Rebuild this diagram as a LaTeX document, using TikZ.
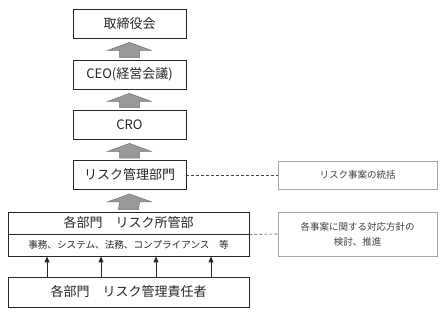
\documentclass[tikz,border=0pt]{standalone}
\usepackage{fontspec}
\setmainfont{Noto Sans CJK JP}
\usepackage{xcolor}
\usetikzlibrary{arrows.meta,calc}
\tikzset{
  orgbox/.style={draw=black!85, line width=0.8bp, fill=white, minimum width=113bp, minimum height=29bp, inner sep=0pt, align=center, text=black!85, font=\fontsize{13bp}{15bp}\selectfont},
  widebox/.style={orgbox, minimum width=241bp, minimum height=22bp},
  notebox/.style={draw=black!35, line width=0.6bp, minimum width=159bp, inner sep=0pt, align=center, text=black!75, font=\fontsize{9.5bp}{15bp}\selectfont},
  blockarrow/.style={fill=black!40, draw=black!55, line width=0.5bp},
  smallarrow/.style={-{Triangle[width=5bp,length=6bp]}, line width=0.9bp, black!85},
  link/.style={dashed, dash pattern=on 3bp off 2bp, line width=0.6bp, black!75}
}
% wide grey arrow pointing up from #1 to #2
\newcommand{\blockup}[2]{%
  \filldraw[blockarrow] ($(#1.north)+(-10,-2)$) -- ($(#2.south)+(-10,12)$) -- ($(#2.south)+(-22,12)$)
    -- ($(#2.south)+(0,4)$) -- ($(#2.south)+(22,12)$) -- ($(#2.south)+(10,12)$) -- ($(#1.north)+(10,-2)$) -- cycle;}

\begin{document}
\begin{tikzpicture}[x=1bp,y=-1bp]
  \useasboundingbox (0,0) rectangle (446,317);

  \node[orgbox] (board) at (129.5,23.5) {取締役会};
  \node[orgbox] (ceo) at (129.5,74.5) {CEO(経営会議)};
  \node[orgbox] (cro) at (129.5,124.5) {CRO};
  \node[orgbox] (riskdept) at (129.5,175) {リスク管理部門};

  \node[widebox] (owner) at (128.5,223) {各部門\hspace{1em}リスク所管部};
  \node[widebox, minimum height=22bp, font=\fontsize{9.6bp}{12bp}\selectfont] (fields) at (128.5,245) {事務、システム、法務、コンプライアンス\hspace{1em}等};
  \node[orgbox, minimum width=241bp, minimum height=30bp] (resp) at (128.5,292) {各部門\hspace{1em}リスク管理責任者};

  \node[notebox, minimum height=28bp] (note1) at (357.5,175) {リスク事案の統括};
  \node[notebox, minimum height=44bp] (note2) at (357.5,234) {各事案に関する対応方針の\\検討、推進};

  \blockup{ceo}{board}
  \blockup{cro}{ceo}
  \blockup{riskdept}{cro}
  \blockup{owner}{riskdept}

  \foreach \x in {47,101,156,211}
    \draw[smallarrow] (resp.north -| \x,0) -- (fields.south -| \x,0);

  \draw[link] (riskdept.east) -- (note1.west);
  \draw[link] (owner.south east) -- (note2.west);
\end{tikzpicture}
\end{document}
